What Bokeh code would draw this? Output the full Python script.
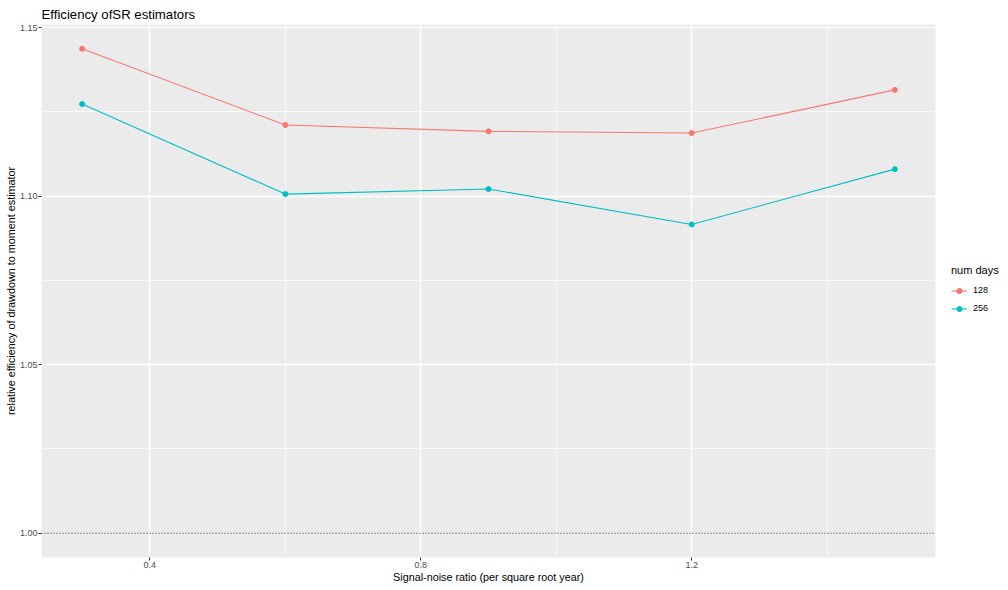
from bokeh.plotting import figure
from bokeh.models import FixedTicker, Span, Legend, LegendItem, ColumnDataSource
from bokeh.embed import file_html
from bokeh.resources import INLINE

snr = [0.3, 0.6, 0.9, 1.2, 1.5]
eff_128 = [1.1437, 1.1211, 1.1192, 1.1187, 1.1315]
eff_256 = [1.1273, 1.1006, 1.1021, 1.0916, 1.1080]
series_names = ["128", "256"]
colors = ["#F8766D", "#00BFC4"]
x_ticks = [0.4, 0.8, 1.2]
x_minor = [0.6, 1.0, 1.4]
y_ticks = [1.00, 1.05, 1.10, 1.15]
y_minor = [1.025, 1.075, 1.125]
y_tick_labels = ["1.00", "1.05", "1.10", "1.15"]
x_tick_labels = ["0.4", "0.8", "1.2"]

FONT = "Liberation Sans"

p = figure(frame_width=894, frame_height=533, output_backend="svg", toolbar_location=None,
           x_range=(0.24, 1.56), y_range=(0.9928, 1.1509),
           min_border_left=41, min_border_right=73, min_border_top=24, min_border_bottom=33,
           title="Efficiency ofSR estimators")
p.background_fill_color = "#EBEBEB"
p.border_fill_color = "white"
p.outline_line_color = None

p.title.text_font = FONT
p.title.text_font_size = "13.2px"
p.title.text_font_style = "normal"
p.title.text_color = "black"
p.title.standoff = 6
p.title.offset = 0

p.xaxis.ticker = FixedTicker(ticks=x_ticks, minor_ticks=x_minor)
p.yaxis.ticker = FixedTicker(ticks=y_ticks, minor_ticks=y_minor)
p.xaxis.major_label_overrides = {t: l for t, l in zip(x_ticks, x_tick_labels)}
p.yaxis.major_label_overrides = {t: l for t, l in zip(y_ticks, y_tick_labels)}

for ax in (p.xaxis, p.yaxis):
    ax.axis_line_color = None
    ax.major_tick_line_color = "#333333"
    ax.major_tick_in = 0
    ax.major_tick_out = 3
    ax.minor_tick_line_color = None
    ax.major_label_text_font = FONT
    ax.major_label_text_font_size = "9px"
    ax.major_label_text_color = "#4D4D4D"
    ax.major_label_standoff = 0
    ax.axis_label_text_font = FONT
    ax.axis_label_text_font_size = "10.8px"
    ax.axis_label_text_font_style = "normal"
    ax.axis_label_text_color = "black"
    ax.axis_label_standoff = 0

p.xaxis.axis_label = "Signal-noise ratio (per square root year)"
p.yaxis.axis_label = "relative efficiency of drawdown to moment estimator"

for g in (p.xgrid, p.ygrid):
    g.grid_line_color = "white"
    g.grid_line_width = 1.4
    g.minor_grid_line_color = "white"
    g.minor_grid_line_width = 0.7

p.add_layout(Span(location=1.0, dimension="width", line_color="black",
                  line_dash="1 2", line_width=1.2))

items = []
for name, vals, c in zip(series_names, [eff_128, eff_256], colors):
    src = ColumnDataSource(dict(x=snr, y=vals))
    r1 = p.line("x", "y", source=src, line_color=c, line_width=1.1)
    r2 = p.scatter("x", "y", source=src, size=5, fill_color=c, line_color=c)
    items.append(LegendItem(label=name, renderers=[r1, r2]))

legend = Legend(items=items, location=(16, 240), title="num days",
                title_text_font=FONT, title_text_font_size="11px", title_text_color="black",
                title_text_font_style="normal",
                label_text_font=FONT, label_text_font_size="9px", label_text_color="black",
                background_fill_color="white", background_fill_alpha=1, border_line_color=None,
                glyph_width=16, glyph_height=13, label_height=18,
                spacing=0, padding=0, margin=0, title_standoff=5, label_standoff=6)
p.add_layout(legend, "right")

open("out.html", "w").write(file_html(p, INLINE))
